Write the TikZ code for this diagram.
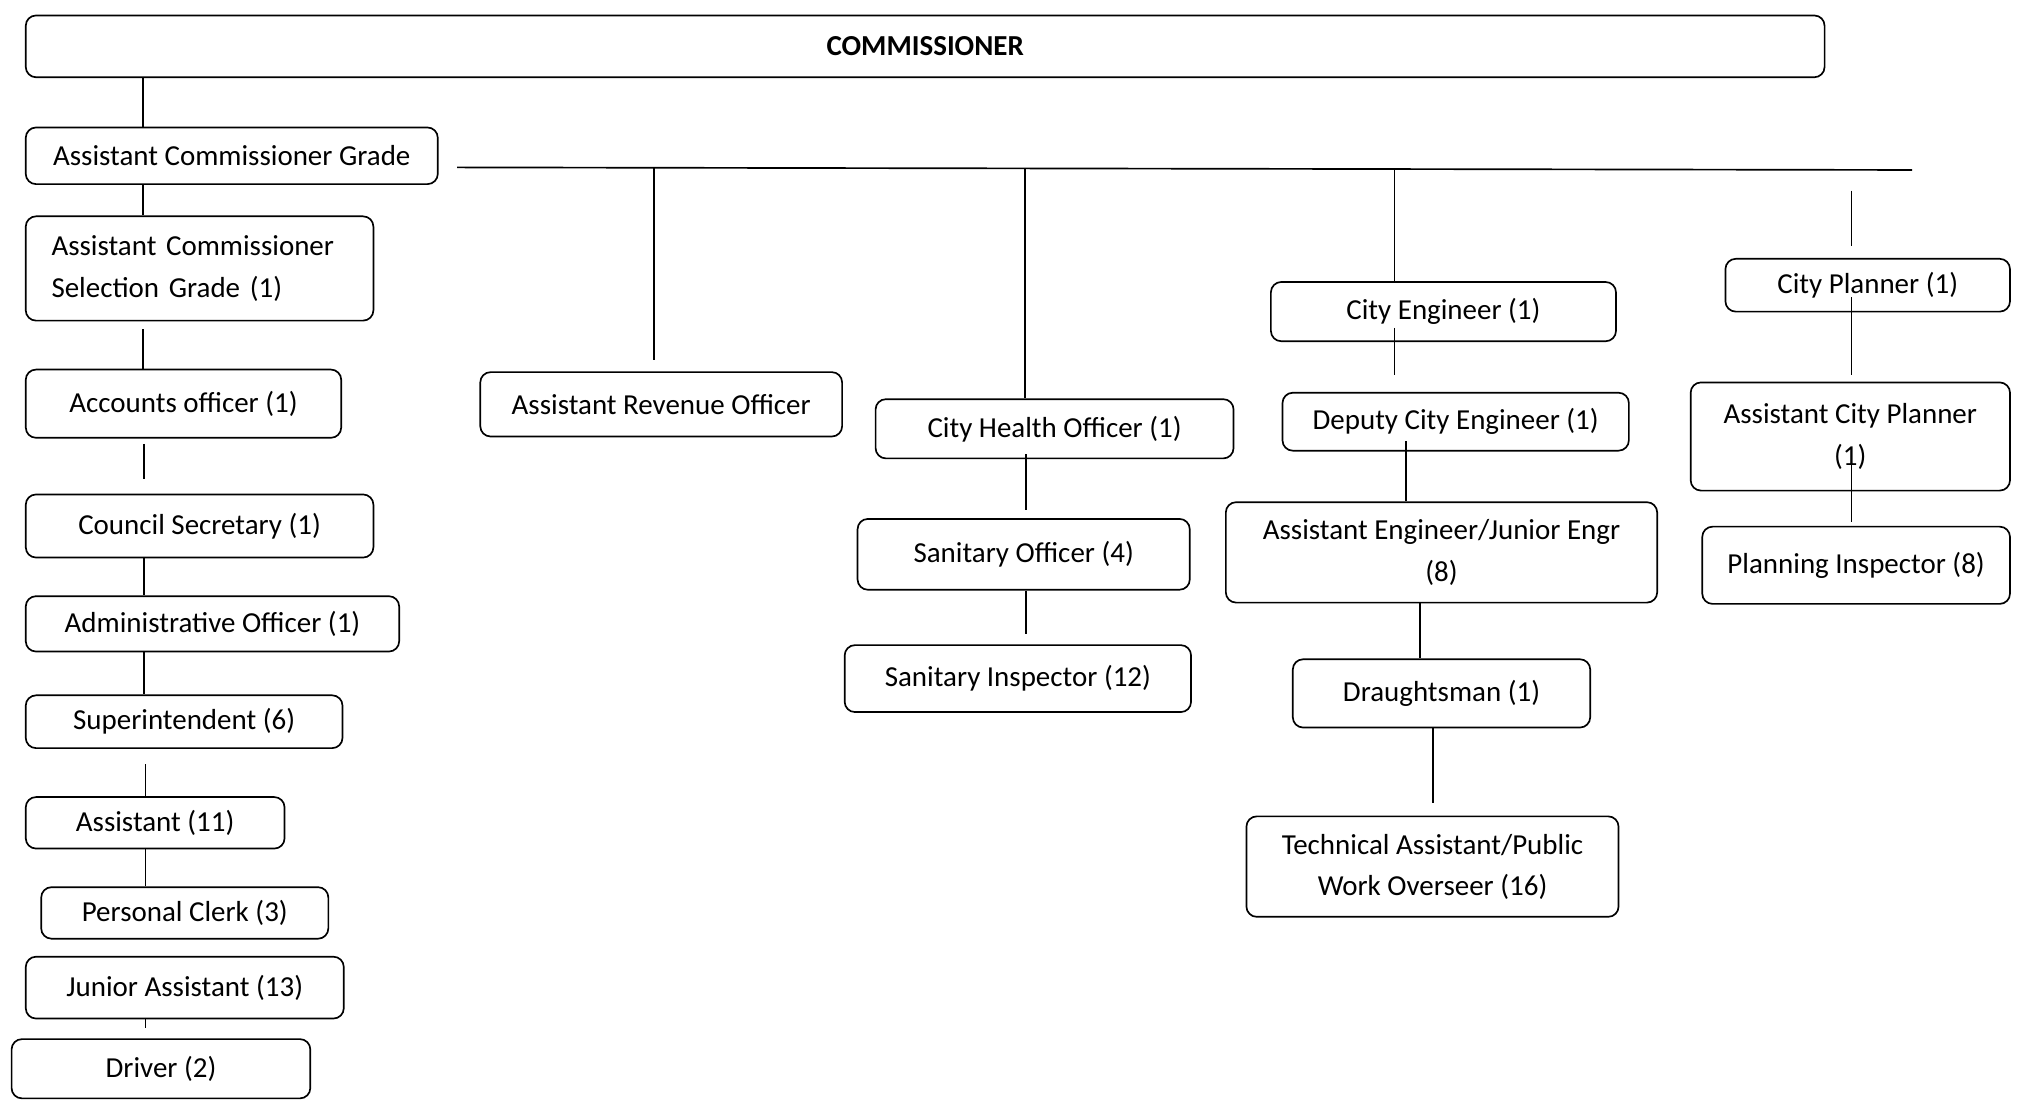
\documentclass[tikz,border=0pt]{standalone}
\usepackage{fontspec}
\setmainfont{Carlito}
\usetikzlibrary{calc}
\tikzset{
  box/.style={draw, rounded corners=8pt, line width=1.3pt, inner sep=0pt, align=center,
              font=\fontsize{22.5}{32}\selectfont},
  link/.style={line width=1.3pt},
}
\begin{document}
\begin{tikzpicture}[x=1pt,y=-1pt]
\useasboundingbox (0,0) rectangle (1568,855);
% left column
\node[box, minimum width=1397, minimum height=48, font=\fontsize{22.5}{32}\selectfont\bfseries] (com) at (718.5,36) {COMMISSIONER};
\node[box, minimum width=320, minimum height=44] (acg) at (180,121) {Assistant Commissioner Grade};
\node[box, minimum width=270, minimum height=81, text width=230, align=left] (acsg) at (155,208.5) {Assistant Commissioner\\Selection Grade (1)};
\node[box, minimum width=245, minimum height=53] (acc) at (142.5,313.5) {Accounts officer (1)};
\node[box, minimum width=270, minimum height=49] (cs) at (155,408.5) {Council Secretary (1)};
\node[box, minimum width=290, minimum height=43] (ao) at (165,484.5) {Administrative Officer (1)};
\node[box, minimum width=246, minimum height=41] (sup) at (143,560.5) {Superintendent (6)};
\node[box, minimum width=201, minimum height=40] (asst) at (120.5,639) {Assistant (11)};
\node[box, minimum width=223, minimum height=40] (pc) at (143.5,709) {Personal Clerk (3)};
\node[box, minimum width=247, minimum height=48] (ja) at (143.5,767) {Junior Assistant (13)};
\node[box, minimum width=232, minimum height=46] (drv) at (125,830) {Driver (2)};
% middle
\node[box, minimum width=281, minimum height=50] (aro) at (513.5,314) {Assistant Revenue Officer};
\node[box, minimum width=278, minimum height=46] (cho) at (819,333) {City Health Officer (1)};
\node[box, minimum width=258, minimum height=55] (so) at (795,430.5) {Sanitary Officer (4)};
\node[box, minimum width=269, minimum height=52] (si) at (790.5,527) {Sanitary Inspector (12)};
% engineering
\node[box, minimum width=268, minimum height=46] (ce) at (1121,242) {City Engineer (1)};
\node[box, minimum width=269, minimum height=45] (dce) at (1130.5,327.5) {Deputy City Engineer (1)};
\node[box, minimum width=335, minimum height=78] (ae) at (1119.5,429) {Assistant Engineer/Junior Engr\\(8)};
\node[box, minimum width=231, minimum height=53] (dr) at (1119.5,538.5) {Draughtsman (1)};
\node[box, minimum width=289, minimum height=78] (ta) at (1112.5,673) {Technical Assistant/Public\\Work Overseer (16)};
% planning
\node[box, minimum width=221, minimum height=41] (cp) at (1450.5,221.5) {City Planner (1)};
\node[box, minimum width=248, minimum height=84] (acp) at (1437,339) {Assistant City Planner\\(1)};
\node[box, minimum width=239, minimum height=60] (pi) at (1441.5,439) {Planning Inspector (8)};

% column x positions
\coordinate (c111) at (111,0);
\coordinate (c112) at (112,0);
\coordinate (c113) at (113,0);
\coordinate (c797) at (797,0);
\coordinate (c1083) at (1083,0);
\coordinate (c1092) at (1092,0);
\coordinate (c1103) at (1103,0);
\coordinate (c1113) at (1113,0);
\coordinate (c1438) at (1438,0);

% left column connectors
\draw[link] (com.south -| c111) -- (acg.north -| c111);
\draw[link] (acg.south -| c111) -- (acsg.north -| c111);
\draw[link, shorten <=6pt] (acsg.south -| c111) -- (acc.north -| c111);
\draw[link, shorten <=4pt, shorten >=11pt] (acc.south -| c112) -- (cs.north -| c112);
\draw[link] (cs.south -| c112) -- (ao.north -| c112);
\draw[link] (ao.south -| c112) -- (sup.north -| c112);
\draw[link, shorten <=12pt] (sup.south -| c113) -- (asst.north -| c113);
\draw[link] (asst.south -| c113) -- (pc.north -| c113);
\draw[link, shorten >=8pt] (ja.south -| c113) -- (drv.north -| c113);

% bus
\coordinate (busL) at (355,130);
\coordinate (busR) at (1485,132);
\draw[link] (busL) -- (busR);
\coordinate (bAro) at (508,130.5);
\coordinate (bCho) at (796,131);
\coordinate (bCe) at (1083,131.5);
\coordinate (bCp) at (1438,148);
\draw[link, shorten >=9pt] (bAro) -- (aro.north -| bAro);
\draw[link] (bCho) -- (cho.north -| bCho);
\draw[link] (bCe) -- (ce.north -| bCe);
\draw[link, shorten >=9pt] (bCp) -- (cp.north -| bCp);

% health
\draw[link, shorten <=-4pt, shorten >=6pt] (cho.south -| c797) -- (so.north -| c797);
\draw[link, shorten >=8pt] (so.south -| c797) -- (si.north -| c797);
% engineering
\draw[link, shorten <=-11pt, shorten >=13pt] (ce.south -| c1083) -- (dce.north -| c1083);
\draw[link, shorten <=-8pt] (dce.south -| c1092) -- (ae.north -| c1092);
\draw[link] (ae.south -| c1103) -- (dr.north -| c1103);
\draw[link, shorten >=10pt] (dr.south -| c1113) -- (ta.north -| c1113);
% planning
\draw[link, shorten <=-12pt, shorten >=5pt] (cp.south -| c1438) -- (acp.north -| c1438);
\draw[link, shorten <=-22pt, shorten >=3pt] (acp.south -| c1438) -- (pi.north -| c1438);
\end{tikzpicture}
\end{document}
